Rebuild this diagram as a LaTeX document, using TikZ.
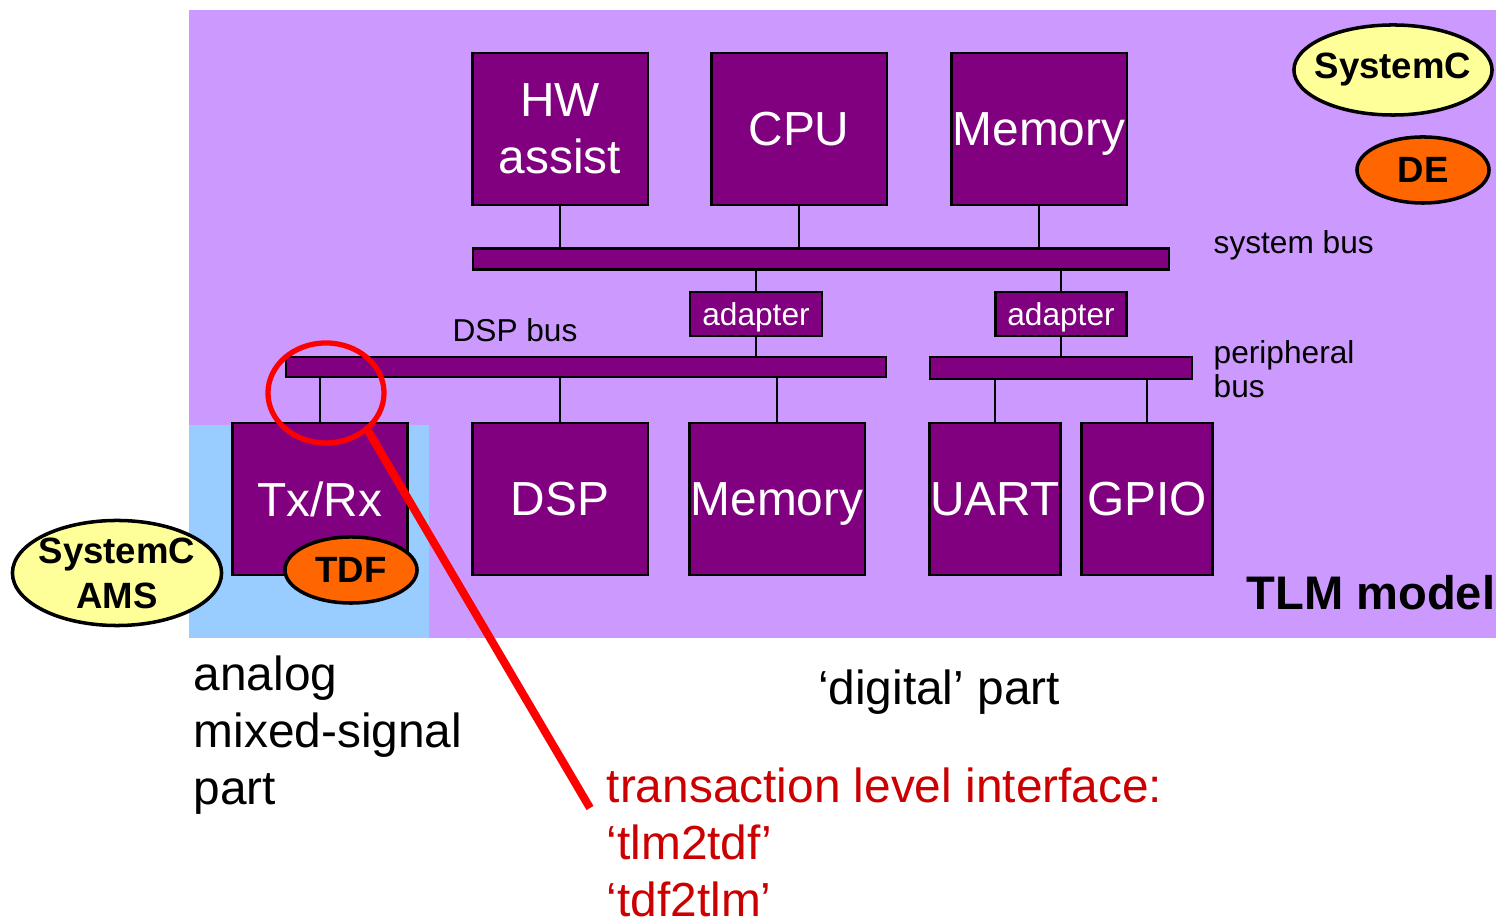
\documentclass[tikz,border=0pt]{standalone}
\usepackage{fontspec}
\setmainfont{Liberation Sans}
\usepackage{xcolor}
\usetikzlibrary{shapes.geometric}

\definecolor{tlmbg}{HTML}{CC99FF}
\definecolor{amsbg}{HTML}{99CCFF}
\definecolor{blockfill}{HTML}{800080}
\definecolor{scyellow}{HTML}{FFFF99}
\definecolor{mocorange}{HTML}{FF6600}
\definecolor{ifred}{HTML}{CC0000}

\begin{document}
\begin{tikzpicture}[x=0.01cm, y=-0.01cm,
    block/.style={draw, line width=0.6pt, fill=blockfill, text=white, align=center,
        font=\fontsize{13.6}{16.2}\selectfont, inner sep=0pt,
        minimum width=1.75cm, minimum height=1.52cm},
    flat/.style={text depth=0pt},
    bus/.style={draw, line width=0.6pt, fill=blockfill, inner sep=0pt, minimum height=0.21cm},
    adapterbox/.style={draw, line width=0.6pt, fill=blockfill, text=white,
        font=\fontsize{9}{10}\selectfont, inner sep=0pt, text depth=0pt,
        minimum width=1.32cm, minimum height=0.44cm},
    link/.style={line width=0.6pt},
    lang/.style={ellipse, draw, line width=1pt, fill=scyellow, align=center,
        font=\bfseries\fontsize{10.4}{12.8}\selectfont, inner xsep=-0.25cm, inner ysep=-0.1cm},
    mocell/.style={ellipse, draw, line width=1pt, fill=mocorange,
        font=\bfseries\fontsize{10.4}{12.8}\selectfont, inner sep=0pt,
        minimum width=1.32cm, minimum height=0.66cm},
    annot/.style={inner sep=0pt, font=\fontsize{9}{9.7}\selectfont, align=left},
    bigannot/.style={inner sep=0pt, font=\fontsize{13.6}{16.2}\selectfont, align=left}
]
    \useasboundingbox (0,0) rectangle (1496,919);

    % TLM model and analog part
    \fill[tlmbg] (189,10) rectangle (1496,638);
    \fill[amsbg] (189,425) rectangle (429,638);

    % Top row
    \node[block] (hw) at (560,129) {HW\\assist};
    \node[block, flat] (cpu) at (799,129) {CPU};
    \node[block, flat] (mem) at (1039,129) {Memory};

    % Buses and adapters
    \node[bus, minimum width=6.96cm] (sysbus) at (821,259) {};
    \node[adapterbox] (adpdsp) at (756,314) {adapter};
    \node[adapterbox, minimum width=1.31cm] (adpper) at (1061,314) {adapter};
    \node[bus, minimum width=6.00cm, minimum height=0.20cm] (dspbus) at (586,367) {};
    \node[bus, minimum width=2.61cm, minimum height=0.22cm] (perbus) at (1061,368) {};

    % Bottom row
    \node[block, flat] (txrx) at (320,499) {Tx/Rx};
    \node[block, flat] (dsp) at (560,499) {DSP};
    \node[block, flat] (mem2) at (777,499) {Memory};
    \node[block, flat, minimum width=1.31cm] (uart) at (995,499) {UART};
    \node[block, flat, minimum width=1.31cm] (gpio) at (1147,499) {GPIO};

    % Links
    \foreach \n in {hw,cpu,mem}
        \draw[link] (\n.south) -- (\n.south |- sysbus.north);
    \foreach \n in {adpdsp,adpper}
        \draw[link] (\n.north) -- (\n.north |- sysbus.south);
    \draw[link] (adpdsp.south) -- (adpdsp.south |- dspbus.north);
    \draw[link] (adpper.south) -- (adpper.south |- perbus.north);
    \foreach \n in {txrx,dsp,mem2}
        \draw[link] (\n.north) -- (\n.north |- dspbus.south);
    \foreach \n in {uart,gpio}
        \draw[link] (\n.north) -- (\n.north |- perbus.south);

    % Languages and models of computation
    \node[lang, minimum width=1.98cm, minimum height=0.90cm] (sc) at (1393,70) {SystemC};
    \node[mocell] (de) at (1423,170) {DE};
    \node[lang, minimum width=2.09cm, minimum height=1.05cm] (scams) at (117,573) {SystemC\\AMS};
    \node[mocell] (tdf) at (351,570) {TDF};

    % Labels
    \node[annot, anchor=base west] (sbuslbl) at (1213,254) {system bus};
    \node[annot, anchor=north west] (pbuslbl) at (1213,340) {peripheral\\bus};
    \node[annot, anchor=base] (dbuslbl) at (515,342) {DSP bus};
    \node[inner sep=0pt, anchor=base east, font=\bfseries\fontsize{13.4}{16}\selectfont] (tlm) at (1496,610) {TLM model};
    \node[bigannot, anchor=north west] (amslbl) at (193,655) {analog\\mixed-signal\\part};
    \node[bigannot, anchor=base] (diglbl) at (939,705) {‘digital’ part};
    \node[bigannot, anchor=north west, text=ifred] (iflbl) at (606,767) {transaction level interface:\\‘tlm2tdf’\\‘tdf2tlm’};

    % Transaction level interface
    \node[ellipse, draw=red, line width=1.5pt, inner sep=0pt, minimum width=1.16cm, minimum height=1.0cm] (probe) at (326,393) {};
    \coordinate (tip) at (590,808);
    \draw[red, line width=2.3pt] (probe.-42) -- (tip);
\end{tikzpicture}
\end{document}
